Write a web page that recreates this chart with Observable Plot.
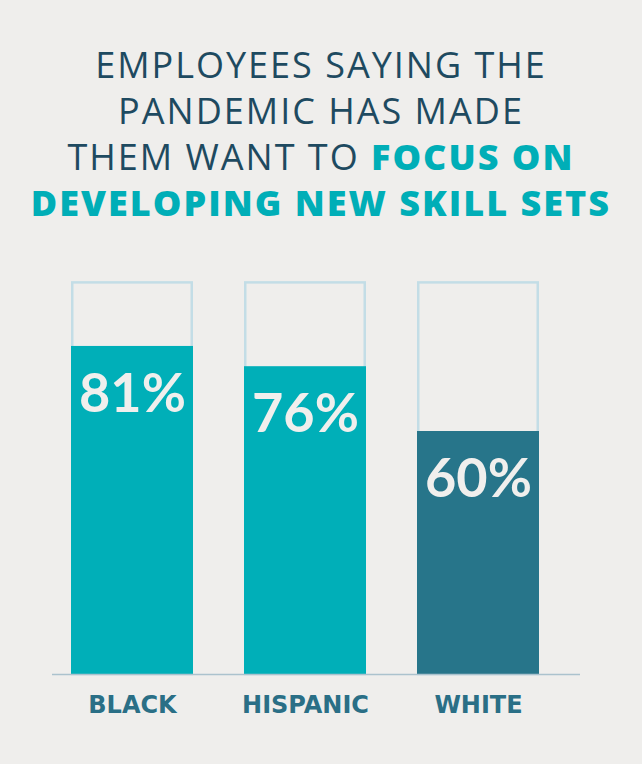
<!DOCTYPE html>
<html><head><meta charset="utf-8">
<script src="https://cdn.jsdelivr.net/npm/d3@7"></script>
<script src="https://cdn.jsdelivr.net/npm/@observablehq/plot@0.6"></script>
<style>
html,body{margin:0;padding:0;background:#efeeec;}
#wrap{position:relative;width:642px;height:764px;overflow:hidden;background:#efeeec;}
#wrap svg{position:absolute;left:0;top:0;}
#title{position:absolute;left:0;top:42px;width:642px;text-align:center;font-family:"Open Sans",sans-serif;font-size:36px;line-height:46px;color:#1e4a60;font-weight:400;letter-spacing:2px;}
#title b{color:#00aeb7;font-weight:800;}
</style></head>
<body>
<div id="wrap">
<div id="title">EMPLOYEES SAYING THE<br>PANDEMIC HAS MADE<br>THEM WANT TO <b>FOCUS ON</b><br><b>DEVELOPING NEW SKILL SETS</b></div>
</div>
<script>
const categories = ["BLACK", "HISPANIC", "WHITE"];
const values = [81, 76, 60];
const frameValue = 97;

const teal = "#00afb8";
const dark = "#27758a";

const data = categories.map((c, i) => ({cat: c, value: values[i]}));

const chart = Plot.plot({
  width: 642,
  height: 764,
  marginTop: 269,
  marginBottom: 90,
  marginLeft: 52,
  marginRight: 62,
  style: {background: "transparent", fontFamily: "Lato, sans-serif"},
  x: {domain: categories, paddingInner: 0.2931, paddingOuter: 0.1638, align: 0.316, axis: null},
  y: {domain: [0, 100], axis: null},
  color: {domain: categories, range: [teal, teal, dark]},
  marks: [
    Plot.barY(data, {x: "cat", y: () => frameValue, fill: "none", stroke: "#c3dde6", strokeWidth: 2.5, insetLeft: 1.25, insetRight: 1.25, insetTop: 1.25}),
    Plot.barY(data, {x: "cat", y: "value", fill: "cat"}),
    Plot.ruleY([0], {stroke: "#abc2cd", strokeWidth: 1.5}),
    Plot.text(data, {x: "cat", y: "value", text: d => d.value + "%", dy: 48, fill: "#f0efed", fontSize: 54, fontWeight: 700, lineAnchor: "middle"}),
    Plot.axisX({tickSize: 0, tickPadding: 21, fontSize: 24, fontWeight: 700, fontFamily: "DejaVu Sans", color: "#2a6f86", label: null})
  ]
});
const wrap = document.getElementById("wrap");
wrap.insertBefore(chart, wrap.firstChild);
</script>
</body></html>
